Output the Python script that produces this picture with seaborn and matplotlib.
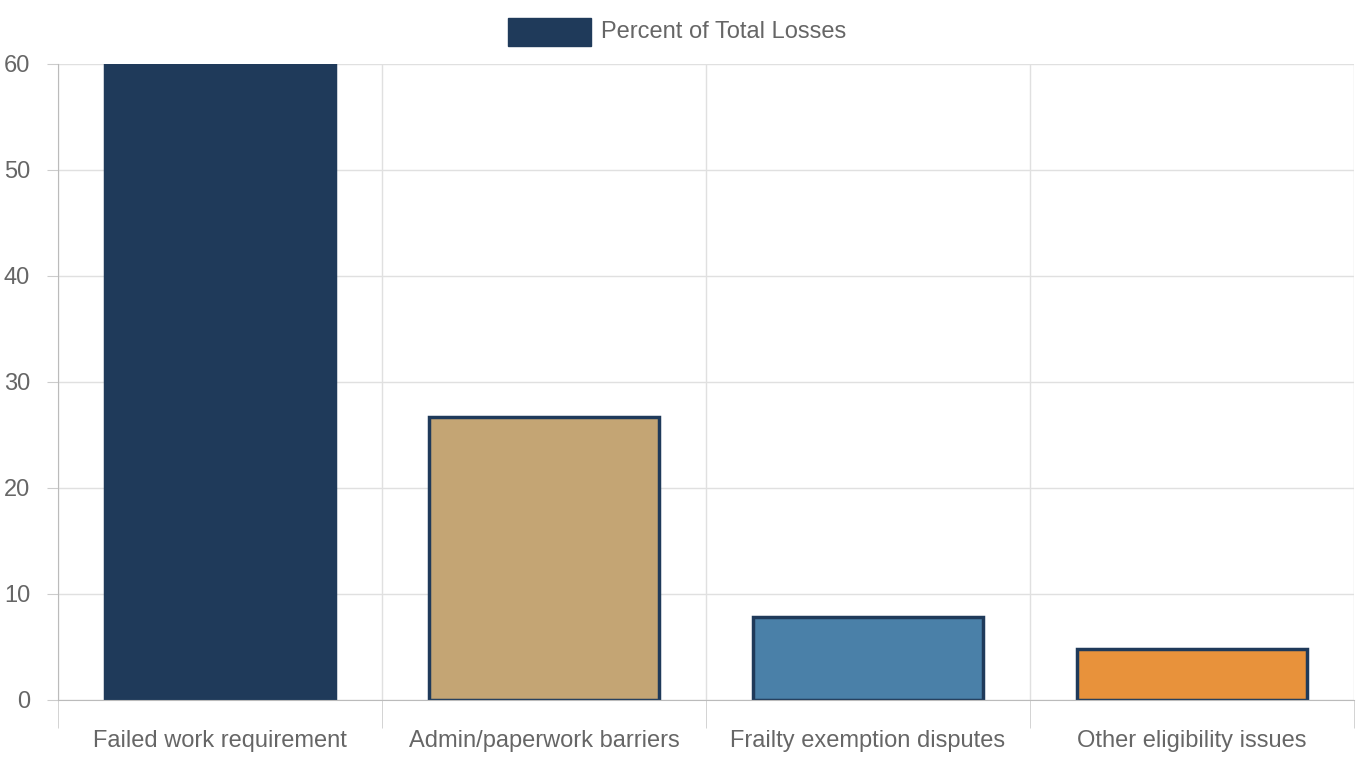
import numpy as np
import matplotlib.pyplot as plt
import pandas as pd
import seaborn as sns


def build_df():
    data = {'reason': ['Failed work requirement', 'Admin/paperwork barriers',
                       'Frailty exemption disputes', 'Other eligibility issues'],
            'pct': [62, 26.7, 7.8, 4.8]}
    return pd.DataFrame(data)

def plot_losses(df):
    sns.set_style("white")
    plt.rcParams['font.family'] = ['Liberation Sans', 'DejaVu Sans']
    fig = plt.figure(figsize=(13.6, 7.6), dpi=100)
    ax = fig.add_axes([58/1360, 60/760, 1296/1360, 636/760])
    colors = ['#1f3a5a', '#c4a574', '#4a80a8', '#e8923b']
    sns.barplot(data=df, x='reason', y='pct', hue='reason', palette=colors, saturation=1,
                width=0.71, edgecolor='#1f3a5a', linewidth=2.5, legend=False, ax=ax)
    ax.set_ylim(0, 60)
    ax.set_xlim(-0.5, 3.5)
    ax.set_yticks(range(0, 61, 10))
    ax.set_xticks([-0.5, 0.5, 1.5, 2.5, 3.5], minor=True)
    ax.grid(True, which='major', axis='y', color='#e0e0e0', linewidth=1)
    ax.grid(True, which='minor', axis='x', color='#e0e0e0', linewidth=1)
    ax.set_axisbelow(True)
    ax.tick_params(axis='x', which='major', bottom=False, pad=18, labelsize=17, labelcolor='#666666')
    ax.tick_params(axis='x', which='minor', bottom=True, length=20, color='#cccccc')
    ax.tick_params(axis='y', left=True, length=8, pad=12, color='#cccccc', labelsize=17, labelcolor='#666666')
    ax.set_xlabel('')
    ax.set_ylabel('')
    for s in ['top', 'right']:
        ax.spines[s].set_visible(False)
    for s in ['left', 'bottom']:
        ax.spines[s].set_color('#bbbbbb')
    # legend
    fig.patches.append(plt.Rectangle((508/1360, 1 - 46/760), 83/1360, 28/760,
                                     transform=fig.transFigure, color='#1f3a5a'))
    fig.text(601/1360, 1 - 32/760, 'Percent of Total Losses', fontsize=17,
             color='#666666', va='center')
    return fig

df = build_df()
fig = plot_losses(df)
fig.savefig('out.png', dpi=100)
